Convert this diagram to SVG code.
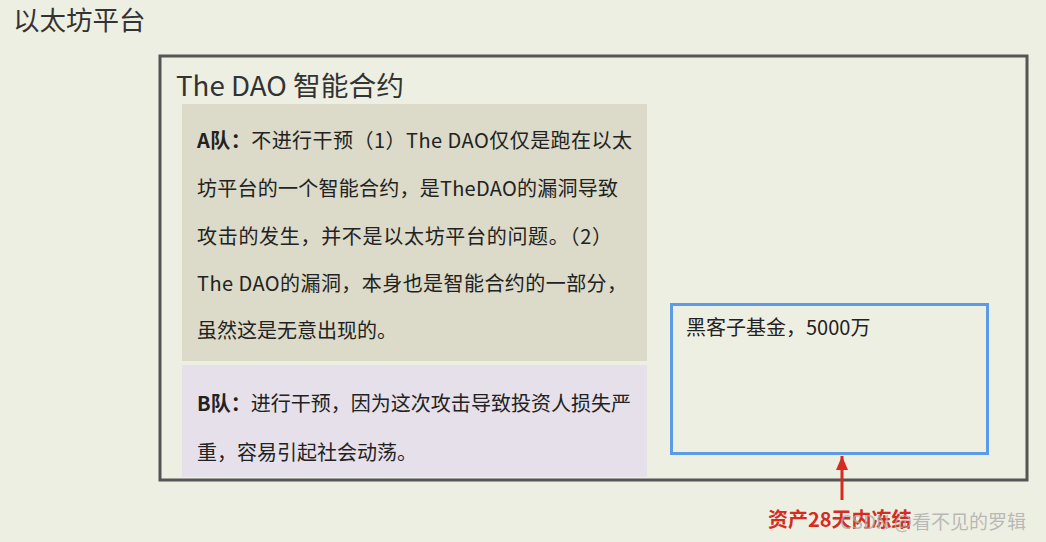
<svg xmlns="http://www.w3.org/2000/svg" width="1046" height="542" viewBox="0 0 1046 542">
<defs>
<style>
text{font-family:"Microsoft YaHei","Noto Sans CJK SC","Noto Sans",sans-serif;fill:#222;}
.t{font-size:20px;}
.b{font-weight:bold;}
</style>
<marker id="ah" markerWidth="14" markerHeight="12" refX="14" refY="6" orient="auto" markerUnits="userSpaceOnUse"><path d="M0,0 L14,6 L0,12 Z" fill="#D62B20"/></marker>
</defs>
<rect width="1046" height="542" fill="#EEEFE3"/>
<text x="13" y="30" font-size="26.5" style="fill:#333">以太坊平台</text>
<g id="platform">
<rect x="160" y="56" width="867" height="424" fill="#EEEFE3" stroke="#555" stroke-width="3"/>
<text x="176" y="96" font-size="27" textLength="228" lengthAdjust="spacingAndGlyphs" style="fill:#333">The DAO 智能合约</text>
</g>
<g id="teamA">
<rect x="182" y="104" width="465" height="257" fill="#DCDAC8"/>
<text class="t" x="197" y="148" textLength="435"><tspan class="b">A队：</tspan>不进行干预（1）The DAO仅仅是跑在以太</text>
<text class="t" x="197" y="196" textLength="421">坊平台的一个智能合约，是TheDAO的漏洞导致</text>
<text class="t" x="197" y="244" textLength="415">攻击的发生，并不是以太坊平台的问题。（2）</text>
<text class="t" x="197" y="291" textLength="430">The DAO的漏洞，本身也是智能合约的一部分，</text>
<text class="t" x="197" y="338">虽然这是无意出现的。</text>
</g>
<g id="teamB">
<rect x="182" y="365" width="465" height="112" fill="#E6E0EA"/>
<text class="t" x="197" y="411" textLength="434"><tspan class="b">B队：</tspan>进行干预，因为这次攻击导致投资人损失严</text>
<text class="t" x="197" y="460">重，容易引起社会动荡。</text>
</g>
<g id="fund">
<rect x="671.5" y="304.5" width="316" height="149" fill="none" stroke="#5B9BE8" stroke-width="3"/>
<text x="686" y="335" font-size="20">黑客子基金，5000万</text>
</g>
<g id="connectors">
<line x1="842" y1="500" x2="842" y2="456" stroke="#D62B20" stroke-width="3" marker-end="url(#ah)"/>
</g>
<text x="768" y="527" font-size="20" font-weight="bold" style="fill:#D62B20">资产28天内冻结</text>
<text x="840" y="529" font-size="19" style="fill:#AAAAAA" fill-opacity="0.8">CSDN @看不见的罗辑</text>
</svg>
